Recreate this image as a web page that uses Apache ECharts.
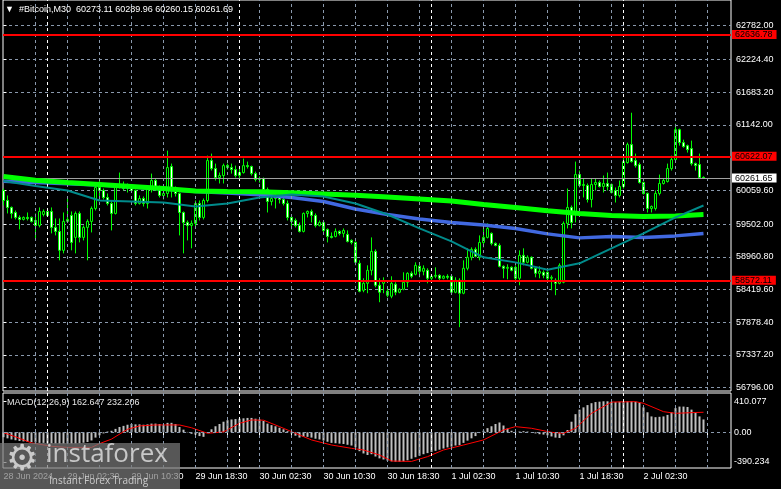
<!DOCTYPE html>
<html><head><meta charset="utf-8">
<script src="https://cdn.jsdelivr.net/npm/echarts@6/dist/echarts.min.js"></script>
<style>html,body{margin:0;padding:0;background:#000;}#c{width:781px;height:489px;}</style>
</head><body><div id="c"></div>
<script>
// ---------- data ----------
const symbolName = '#Bitcoin,M30';
const lastOHLC = [60273.11, 60289.96, 60260.15, 60261.69];
const macdName = 'MACD(12,26,9)';
const macdLast = [162.647, 232.206];

const opens = [60056,59891,59776,59693,59611,59578,59611,59611,59561,59479,59660,59710,59710,59446,59380,59067,59545,59644,59281,59677,59281,59446,59545,59759,60106,60056,59941,59842,59677,60106,60155,60089,60122,60056,59842,59924,59842,60106,60221,60106,59974,60007,60452,60089,60007,59693,59528,59479,59512,59842,59611,59891,60551,60419,60271,60304,60468,60435,60402,60304,60353,60468,60452,60336,60238,60254,60073,59875,59924,59957,59908,59842,59611,59561,59479,59380,59677,59710,59644,59479,59528,59413,59297,59297,59380,59347,59330,59231,59198,58852,58407,58522,58736,59050,58489,58522,58390,58308,58506,58374,58423,58539,58687,58671,58803,58720,58736,58605,58638,58654,58605,58638,58638,58374,58572,58358,58770,58951,59083,58951,59198,59281,59347,59182,59149,58803,58770,58786,58786,58605,58984,58869,58951,58770,58687,58704,58704,58605,58572,58522,58539,59512,59776,59677,60320,60139,60139,59908,60155,60188,60122,60172,60155,60056,59974,60122,60518,60815,60551,60485,60188,60007,59759,59759,60007,60172,60205,60419,60567,61062,60848,60798,60749,60501,60485,60273.11];
const closes = [59891,59776,59677,59611,59578,59611,59594,59545,59479,59710,59710,59644,59446,59380,59067,59545,59578,59198,59677,59281,59446,59545,59759,60106,60056,59941,59842,59677,60106,60155,60089,60122,60056,59842,59924,59842,60089,60221,60106,59974,60007,60435,60089,60007,59693,59528,59479,59512,59842,59611,59891,60551,60419,60271,60304,60468,60435,60402,60304,60353,60468,60452,60336,60238,60254,60073,59875,59924,59957,59908,59842,59611,59545,59479,59380,59677,59710,59644,59479,59528,59396,59297,59281,59380,59347,59396,59215,59198,58869,58390,58522,58736,59050,58489,58374,58555,58325,58522,58374,58423,58539,58687,58638,58819,58720,58770,58605,58638,58654,58605,58638,58621,58374,58572,58358,58770,58951,59083,58968,59198,59281,59429,59182,59149,58803,58770,58786,58736,58605,58984,58869,58951,58770,58687,58720,58654,58605,58621,58522,58819,59512,59776,59528,60320,60139,60155,59908,60155,60188,60122,60172,60122,60023,59974,60122,60534,60815,60534,60468,60188,60007,59759,59792,60007,60172,60221,60419,60567,61062,60848,60782,60732,60501,60468,60271,60261.69];
const lows = [59809,59677,59594,59578,59413,59561,59561,59528,59264,59446,59627,59627,59347,59314,58902,59017,59528,59067,59017,59198,59231,58902,59363,59726,59891,59908,59809,59396,59660,60089,60056,60023,60023,59809,59825,59792,59759,60023,60056,59941,59908,59941,59941,59957,59314,59017,59231,59100,59446,59561,59578,59858,60386,60221,60172,60172,60402,60336,60271,60254,60336,60419,60304,60205,60188,59941,59693,59809,59759,59842,59809,59561,59413,59446,59363,59363,59611,59528,59446,59462,59363,59198,59264,59281,59314,59281,59198,59165,58819,58374,58374,58358,58654,58456,58209,58358,58291,58275,58325,58358,58407,58456,58605,58654,58621,58654,58522,58539,58605,58572,58588,58588,58358,58358,57797,58341,58736,58902,58951,58902,59116,59264,59149,59132,58786,58605,58588,58720,58572,58489,58819,58852,58753,58621,58605,58605,58539,58407,58325,58506,58522,59429,59429,59528,60106,59941,59858,59776,60056,60106,60023,60056,60007,59858,59941,60089,60501,60518,60435,60172,59990,59693,59693,59726,59974,60155,60188,60386,60518,60798,60765,60683,60468,60386,60254,60260.15];
const highs = [60089,59974,59792,59726,59644,59627,59693,59627,59677,59776,59743,59743,59776,59594,59594,59693,59941,59710,59710,59710,59479,59578,59792,60188,60254,60089,60007,59891,60172,60353,60205,60172,60155,60073,59974,59957,60106,60336,60254,60139,60056,60716,60501,60122,60023,59710,59561,59561,59891,59891,59924,60633,60666,60501,60353,60501,60501,60501,60468,60419,60584,60534,60468,60369,60287,60271,60106,59974,59990,59990,60007,59891,59644,59594,59528,59693,59726,59743,59677,59561,59545,59429,59363,59429,59396,59429,59396,59248,59215,58902,58605,58819,59281,59083,58605,58621,58456,58638,58539,58440,58704,58704,58720,58869,58852,58819,58770,58654,58786,58671,58654,58671,58654,58621,58605,58902,59100,59116,59116,59314,59446,59512,59363,59198,59182,58819,58836,58803,58819,59067,59100,58984,58968,58786,58803,58736,58720,58654,58605,58852,59545,60089,59809,60534,60386,60254,60172,60254,60254,60221,60304,60353,60172,60106,60221,60600,60848,61342,60666,60518,60205,60023,59809,60056,60320,60254,60501,60633,61161,61079,60897,60815,60881,60518,60666,60289.96];

const maIdx = [0,8,16,24,32,40,48,56,64,72,80,88,96,104,112,120,128,136,144,152,160,168,175];
const ma200 = [60287,60226,60188,60155,60122,60089,60048,60040,60035,60020,59999,59977,59949,59916,59883,59826,59776,59722,59677,59644,59627,59636,59660];
const ma100 = [60210,60188,60167,60147,60114,60081,60040,60015,59985,59941,59875,59751,59660,59586,59528,59487,59429,59339,59273,59297,59281,59306,59347];
const ma50  = [60213,60131,60056,59891,59875,59858,59792,59842,59941,59990,59957,59842,59660,59429,59215,58951,58868,58745,58852,59099,59347,59611,59809];

const macdHist = [-65,-80,-95,-105,-115,-120,-125,-130,-135,-140,-140,-142,-145,-148,-150,-150,-148,-150,-148,-145,-138,-128,-108,-70,-40,-15,10,20,45,70,85,100,110,105,105,100,105,115,115,110,100,125,125,110,70,35,5,-20,-30,-50,-60,-10,40,80,110,140,160,170,175,180,185,190,190,180,170,150,115,95,80,60,40,15,-15,-45,-70,-60,-60,-70,-85,-95,-110,-125,-140,-145,-150,-155,-165,-175,-200,-250,-280,-300,-290,-320,-345,-360,-375,-385,-390,-390,-385,-370,-350,-330,-310,-290,-275,-260,-245,-230,-215,-200,-190,-175,-170,-140,-110,-80,-50,-10,20,55,80,110,130,90,50,20,5,10,15,10,-5,-15,-25,-30,-40,-55,-70,-75,-40,30,140,240,300,330,360,385,400,405,410,410,405,400,405,410,410,410,405,390,330,265,210,200,205,210,230,265,320,340,340,335,300,260,210,170];
const signalIdx = [0,3,7,12,16,22,24,27,31,34,38,44,47,51,55,59,62,65,69,73,77,82,87,90,94,97,102,106,110,115,120,125,128,132,137,140,143,147,152,158,160,165,168,173,175];
const signalVal = [-5,-60,-140,-185,-200,-200,-150,-90,40,84,97,97,60,-13,5,119,163,160,75,-13,-101,-168,-212,-234,-300,-380,-385,-322,-234,-168,-101,31,75,53,0,-13,53,251,400,405,384,273,251,262,265];

const priceTicks = [62782.00,62224.40,61683.20,61142.00,60600.80,60059.60,59502.00,58960.80,58419.60,57878.40,57337.20,56796.00];
const priceLabelTicks = [62782.00,62224.40,61683.20,61142.00,60059.60,59502.00,58960.80,58419.60,57878.40,57337.20,56796.00];
const levelLines = [62636.78, 60622.07, 58572.11];
const bidPrice = 60261.65;
const macdTicks = [410.077, 0, -390.234];
const macdTickLabels = ['410.077','0.00','-390.234'];
const gridIdx = [8,16,24,32,40,48,56,64,72,80,88,96,104,112,120,128,136,144,152,160,168,176];
const xTickIdx = [0,8,16,24,32,40,48,56,64,72,80,88,96,104,112,120,128,136,144,152,160,168,176];
const separatorIdx = [11,59,107,155];
const timeTickIdx = [0,16,32,48,64,80,96,112,128,144,160];
const timeTickLabels = ['28 Jun 2024','29 Jun 02:30','29 Jun 10:30','29 Jun 18:30','30 Jun 02:30','30 Jun 10:30','30 Jun 18:30','1 Jul 02:30','1 Jul 10:30','1 Jul 18:30','2 Jul 02:30'];

// ---------- chart ----------
const FONT = 'Liberation Sans';
const chart = echarts.init(document.getElementById('c'), null, {renderer:'canvas', width:781, height:489});
const pair = (idx, vals) => idx.map((k,i)=>[k, vals[i]]);
const candleData = opens.map((o,i)=>[i, o, closes[i], lows[i], highs[i]]);
// histogram drawn as zero-based boxes
const histData = macdHist.map((v,i)=>[i, 0, v, Math.min(0, v), Math.max(0, v)]);

const GRID_COLOR = '#8a99ad';
const gridDash = () => ({color:GRID_COLOR, type:[3,3], width:1});
const sepStyle = () => ({color:'#ffffff', type:[3,3], width:1});
const mlBase = () => ({symbol:['none','none'], silent:true, animation:false, label:{show:false}});
const vLines = () => [
  ...gridIdx.map(k=>({xAxis:k, lineStyle:gridDash()})),
  ...separatorIdx.map(k=>({xAxis:k, lineStyle:sepStyle()}))
];

const X_MIN = -0.125, X_MAX = 181.875;

const option = {
  backgroundColor:'#000',
  animation:false,
  title:[
    {text:'\u25BC  ' + symbolName + '  ' + lastOHLC.map(v=>v.toFixed(2)).join(' '), left:5, top:5, padding:0,
     textStyle:{color:'#fff', fontSize:9, fontFamily:FONT, fontWeight:'normal'}},
    {text: macdName + ' ' + macdLast.map(v=>v.toFixed(3)).join(' '), left:7, top:398, padding:0,
     textStyle:{color:'#e8e8e8', fontSize:9, fontFamily:FONT, fontWeight:'normal'}}
  ],
  grid:[
    {left:3, right:50, top:-1, height:392, show:true, borderColor:'#fff', borderWidth:1},
    {left:3, right:50, top:393, height:75, show:true, borderColor:'#fff', borderWidth:1}
  ],
  xAxis:[
    {type:'value', gridIndex:0, min:X_MIN, max:X_MAX, show:false},
    {type:'value', gridIndex:1, min:X_MIN, max:X_MAX,
     axisLine:{show:false}, splitLine:{show:false},
     axisTick:{show:true, customValues:xTickIdx, length:3, lineStyle:{color:'#fff'}},
     axisLabel:{customValues:timeTickIdx, formatter:v=>timeTickLabels[timeTickIdx.indexOf(v)],
       color:'#fff', fontSize:9, fontFamily:FONT, align:'left', margin:4}}
  ],
  yAxis:[
    {type:'value', gridIndex:0, position:'right', min:56741.4, max:63205.8,
     splitLine:{show:true, lineStyle:{color:GRID_COLOR, type:[3,3], width:1}}, axisLine:{show:false},
     axisTick:{show:true, customValues:priceTicks, length:3, lineStyle:{color:'#fff'}},
     axisLabel:{customValues:priceLabelTicks, formatter:v=>v.toFixed(2), color:'#fff', fontSize:9, fontFamily:FONT, margin:5}},
    {type:'value', gridIndex:1, position:'right', min:-472.2, max:519.8,
     splitLine:{show:false}, axisLine:{show:false},
     axisTick:{show:true, customValues:macdTicks, length:3, lineStyle:{color:'#fff'}},
     axisLabel:{customValues:macdTicks, formatter:v=>macdTickLabels[macdTicks.indexOf(v)], color:'#fff', fontSize:9, fontFamily:FONT, margin:3}}
  ],
  series:[
    {type:'line', xAxisIndex:0, yAxisIndex:0, data:[], z:1, silent:true,
     markLine:Object.assign(mlBase(), {data:vLines()})},
    {type:'candlestick', xAxisIndex:0, yAxisIndex:0, data:candleData, encode:{x:0, y:[1,2,3,4]},
     barWidth:2, z:3, silent:true,
     itemStyle:{color:'#000', color0:'#fff', borderColor:'#00ff00', borderColor0:'#00ff00', borderColorDoji:'#00ff00', borderWidth:1}},
    {type:'line', xAxisIndex:1, yAxisIndex:1, data:[], z:1, silent:true,
     markLine:Object.assign(mlBase(), {data:[{yAxis:0, lineStyle:gridDash()}, ...vLines()]})},
    {type:'line', xAxisIndex:0, yAxisIndex:0, data:[], z:2, silent:true,
     markLine:Object.assign(mlBase(), {data:[
       {yAxis:bidPrice, lineStyle:{color:'#a0a0a0', width:1, type:'solid'},
        label:{show:true, position:'end', distance:1, formatter:()=>bidPrice.toFixed(2),
          backgroundColor:'#fff', color:'#000', fontSize:9, fontFamily:FONT, padding:[0,4,0,3], lineHeight:9}}
     ]})},
    {type:'line', xAxisIndex:0, yAxisIndex:0, data:[], z:7, silent:true,
     markLine:Object.assign(mlBase(), {data: levelLines.map(v=>({yAxis:v,
       lineStyle:{color:'#ff0000', width:2, type:'solid'},
       label:{show:true, position:'end', distance:1, formatter:()=>v.toFixed(2),
         backgroundColor:'#ff0000', color:'#000', fontSize:9, fontFamily:FONT, padding:[0,4,0,3], lineHeight:9}}))})},
    {type:'line', xAxisIndex:0, yAxisIndex:0, data:pair(maIdx, ma100), symbol:'none', z:4, silent:true,
     lineStyle:{color:'#4169e1', width:3.5}},
    {type:'line', xAxisIndex:0, yAxisIndex:0, data:pair(maIdx, ma200), symbol:'none', z:5, silent:true,
     lineStyle:{color:'#00ff00', width:5}},
    {type:'line', xAxisIndex:0, yAxisIndex:0, data:pair(maIdx, ma50), symbol:'none', z:6, silent:true,
     lineStyle:{color:'#008b8b', width:2}},
    {type:'candlestick', xAxisIndex:1, yAxisIndex:1, data:histData, encode:{x:0, y:[1,2,3,4]},
     barWidth:3, z:3, silent:true,
     itemStyle:{color:'#c0c0c0', color0:'#c0c0c0', borderColor:'#c0c0c0', borderColor0:'#c0c0c0', borderColorDoji:'#c0c0c0', borderWidth:0}},
    {type:'line', xAxisIndex:1, yAxisIndex:1, data:pair(signalIdx, signalVal), symbol:'none', z:4, silent:true,
     lineStyle:{color:'#ff0000', width:1}}
  ],
  graphic:[
    {type:'rect', left:0, top:443, z:100, shape:{width:180, height:46}, style:{fill:'rgba(120,120,120,0.72)'}},
    {type:'text', left:6, top:443, z:101, style:{text:'\u2699', font:'36px "DejaVu Sans"', fill:'rgba(215,215,215,0.9)'}},
    {type:'text', left:46, top:442, z:101, style:{text:'instaforex', font:'26px "Open Sans"', fill:'rgba(220,220,220,0.85)'}},
    {type:'text', left:49, top:476, z:101, style:{text:'Instant Forex Trading', font:'10px "Open Sans"', fill:'rgba(215,215,215,0.9)'}}
  ]
};
chart.setOption(option);
</script>
</body></html>
